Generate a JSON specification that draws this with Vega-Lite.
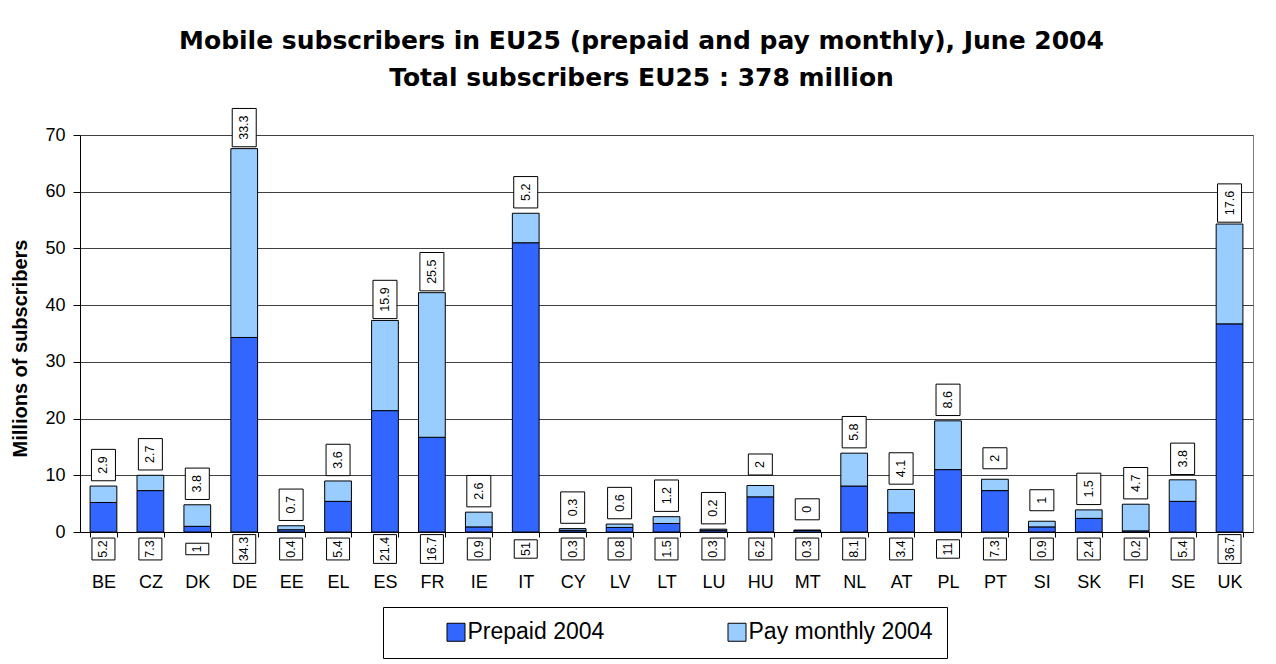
{
  "$schema": "https://vega.github.io/schema/vega-lite/v6.json",
  "autosize": {"type": "none"},
  "padding": {"left": 80, "top": 135, "right": 23, "bottom": 132},
  "width": 1173,
  "height": 397,
  "background": "white",
  "config": {
    "font": "Liberation Sans",
    "view": {"stroke": "#808080", "strokeWidth": 1}
  },
  "title": {
    "text": "Mobile subscribers in EU25 (prepaid and pay monthly), June 2004",
    "subtitle": "Total subscribers EU25 : 378 million",
    "font": "DejaVu Sans",
    "subtitleFont": "DejaVu Sans",
    "fontSize": 25,
    "subtitleFontSize": 25,
    "fontWeight": "bold",
    "subtitleFontWeight": "bold",
    "color": "black",
    "subtitleColor": "black",
    "anchor": "middle",
    "frame": "group",
    "dx": -25,
    "offset": 15,
    "subtitlePadding": 12
  },
  "data": {
    "values": [
      {"country": "BE", "type": "Prepaid 2004", "value": 5.2},
      {"country": "BE", "type": "Pay monthly 2004", "value": 2.9},
      {"country": "CZ", "type": "Prepaid 2004", "value": 7.3},
      {"country": "CZ", "type": "Pay monthly 2004", "value": 2.7},
      {"country": "DK", "type": "Prepaid 2004", "value": 1},
      {"country": "DK", "type": "Pay monthly 2004", "value": 3.8},
      {"country": "DE", "type": "Prepaid 2004", "value": 34.3},
      {"country": "DE", "type": "Pay monthly 2004", "value": 33.3},
      {"country": "EE", "type": "Prepaid 2004", "value": 0.4},
      {"country": "EE", "type": "Pay monthly 2004", "value": 0.7},
      {"country": "EL", "type": "Prepaid 2004", "value": 5.4},
      {"country": "EL", "type": "Pay monthly 2004", "value": 3.6},
      {"country": "ES", "type": "Prepaid 2004", "value": 21.4},
      {"country": "ES", "type": "Pay monthly 2004", "value": 15.9},
      {"country": "FR", "type": "Prepaid 2004", "value": 16.7},
      {"country": "FR", "type": "Pay monthly 2004", "value": 25.5},
      {"country": "IE", "type": "Prepaid 2004", "value": 0.9},
      {"country": "IE", "type": "Pay monthly 2004", "value": 2.6},
      {"country": "IT", "type": "Prepaid 2004", "value": 51},
      {"country": "IT", "type": "Pay monthly 2004", "value": 5.2},
      {"country": "CY", "type": "Prepaid 2004", "value": 0.3},
      {"country": "CY", "type": "Pay monthly 2004", "value": 0.3},
      {"country": "LV", "type": "Prepaid 2004", "value": 0.8},
      {"country": "LV", "type": "Pay monthly 2004", "value": 0.6},
      {"country": "LT", "type": "Prepaid 2004", "value": 1.5},
      {"country": "LT", "type": "Pay monthly 2004", "value": 1.2},
      {"country": "LU", "type": "Prepaid 2004", "value": 0.3},
      {"country": "LU", "type": "Pay monthly 2004", "value": 0.2},
      {"country": "HU", "type": "Prepaid 2004", "value": 6.2},
      {"country": "HU", "type": "Pay monthly 2004", "value": 2},
      {"country": "MT", "type": "Prepaid 2004", "value": 0.3},
      {"country": "MT", "type": "Pay monthly 2004", "value": 0},
      {"country": "NL", "type": "Prepaid 2004", "value": 8.1},
      {"country": "NL", "type": "Pay monthly 2004", "value": 5.8},
      {"country": "AT", "type": "Prepaid 2004", "value": 3.4},
      {"country": "AT", "type": "Pay monthly 2004", "value": 4.1},
      {"country": "PL", "type": "Prepaid 2004", "value": 11},
      {"country": "PL", "type": "Pay monthly 2004", "value": 8.6},
      {"country": "PT", "type": "Prepaid 2004", "value": 7.3},
      {"country": "PT", "type": "Pay monthly 2004", "value": 2},
      {"country": "SI", "type": "Prepaid 2004", "value": 0.9},
      {"country": "SI", "type": "Pay monthly 2004", "value": 1},
      {"country": "SK", "type": "Prepaid 2004", "value": 2.4},
      {"country": "SK", "type": "Pay monthly 2004", "value": 1.5},
      {"country": "FI", "type": "Prepaid 2004", "value": 0.2},
      {"country": "FI", "type": "Pay monthly 2004", "value": 4.7},
      {"country": "SE", "type": "Prepaid 2004", "value": 5.4},
      {"country": "SE", "type": "Pay monthly 2004", "value": 3.8},
      {"country": "UK", "type": "Prepaid 2004", "value": 36.7},
      {"country": "UK", "type": "Pay monthly 2004", "value": 17.6}
    ]
  },
  "layer": [
    {
      "mark": {"type": "bar", "stroke": "black", "strokeWidth": 1},
      "encoding": {
        "x": {
          "field": "country", "type": "nominal", "sort": null,
          "scale": {"paddingInner": 0.43, "paddingOuter": 0.215},
          "axis": {
            "title": null, "labelAngle": 0, "labelFontSize": 18, "labelColor": "black",
            "labelPadding": 36, "tickBand": "extent", "tickSize": 5, "tickColor": "black",
            "domainColor": "black", "grid": false
          }
        },
        "y": {
          "field": "value", "type": "quantitative", "stack": "zero",
          "scale": {"domain": [0, 70], "nice": false},
          "axis": {
            "title": "Millions of subscribers", "titleFontSize": 20, "titleFontWeight": "bold",
            "titleColor": "black", "titlePadding": 14, "titleY": 213,
            "values": [0, 10, 20, 30, 40, 50, 60, 70],
            "labelFontSize": 18, "labelColor": "black", "labelPadding": 8,
            "tickSize": 7, "tickColor": "black", "domainColor": "black",
            "grid": true, "gridColor": "#404040", "gridWidth": 1
          }
        },
        "color": {
          "field": "type", "type": "nominal",
          "scale": {"domain": ["Prepaid 2004", "Pay monthly 2004"], "range": ["#3366FF", "#99CCFF"]},
          "legend": {
            "title": null, "orient": "none", "legendX": 303, "legendY": 472,
            "direction": "horizontal", "padding": 13.5, "columnPadding": 73,
            "symbolOffset": 48,
            "strokeColor": "black", "fillColor": "white",
            "symbolType": "square", "symbolSize": 324, "symbolStrokeColor": "black",
            "symbolStrokeWidth": 1, "symbolOpacity": 1,
            "labelFontSize": 23, "labelColor": "black", "labelOffset": 0, "labelLimit": 400
          }
        },
        "order": {"field": "type", "sort": "descending"}
      }
    },
    {
      "transform": [
        {"stack": "value", "groupby": ["country"], "sort": [{"field": "type", "order": "descending"}], "as": ["v0", "v1"]},
        {"filter": "datum.type == 'Pay monthly 2004'"}
      ],
      "mark": {"type": "point", "filled": true, "fill": "white", "stroke": "black", "strokeWidth": 1, "opacity": 1},
      "encoding": {
        "x": {"field": "country", "type": "nominal", "sort": null},
        "y": {"field": "v1", "type": "quantitative"},
        "size": {"value": 576},
        "shape": {
          "condition": [
            {"test": "length(toString(datum.value)) == 1", "value": "M-1,-2.625H1V-0.875H-1Z"},
            {"test": "length(toString(datum.value)) == 2", "value": "M-1,-2.913H1V-0.588H-1Z"},
            {"test": "length(toString(datum.value)) == 3", "value": "M-1,-3.058H1V-0.442H-1Z"}
          ],
          "value": "M-1,-3.346H1V-0.154H-1Z"
        }
      }
    },
    {
      "transform": [
        {"stack": "value", "groupby": ["country"], "sort": [{"field": "type", "order": "descending"}], "as": ["v0", "v1"]},
        {"filter": "datum.type == 'Pay monthly 2004'"}
      ],
      "mark": {"type": "text", "angle": 270, "align": "center", "baseline": "middle", "dx": 21, "fontSize": 12.5, "color": "black"},
      "encoding": {
        "x": {"field": "country", "type": "nominal", "sort": null},
        "y": {"field": "v1", "type": "quantitative"},
        "text": {"field": "value", "type": "quantitative"}
      }
    },
    {
      "transform": [{"filter": "datum.type == 'Prepaid 2004'"}],
      "mark": {"type": "point", "filled": true, "fill": "white", "stroke": "black", "strokeWidth": 1, "opacity": 1},
      "encoding": {
        "x": {"field": "country", "type": "nominal", "sort": null},
        "y": {"datum": 0, "type": "quantitative"},
        "size": {"value": 529},
        "shape": {
          "condition": [
            {"test": "length(toString(datum.value)) == 1", "value": "M-1,0.978H1V1.978H-1Z"},
            {"test": "length(toString(datum.value)) == 2", "value": "M-1,0.678H1V2.278H-1Z"},
            {"test": "length(toString(datum.value)) == 3", "value": "M-1,0.526H1V2.430H-1Z"}
          ],
          "value": "M-1,0.226H1V2.730H-1Z"
        }
      }
    },
    {
      "transform": [{"filter": "datum.type == 'Prepaid 2004'"}],
      "mark": {"type": "text", "angle": 270, "align": "center", "baseline": "middle", "dx": -17, "fontSize": 12.5, "color": "black"},
      "encoding": {
        "x": {"field": "country", "type": "nominal", "sort": null},
        "y": {"datum": 0, "type": "quantitative"},
        "text": {"field": "value", "type": "quantitative"}
      }
    }
  ]
}
